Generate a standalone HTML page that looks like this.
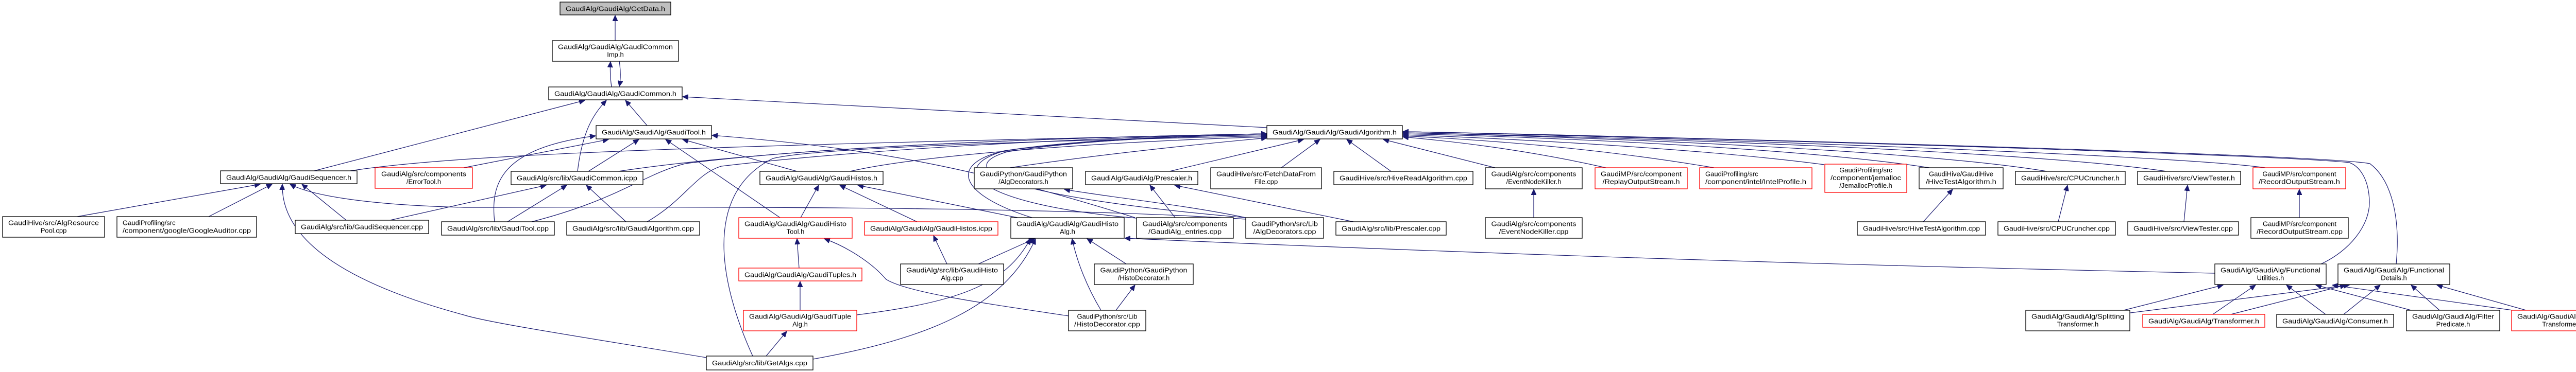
<!DOCTYPE html>
<html><head><meta charset="utf-8"><style>
html,body{margin:0;padding:0;background:#fff;}
svg{display:block;}
text{font-family:"Liberation Sans",sans-serif;font-size:13px;fill:#000;text-anchor:middle;}
text.l{text-anchor:start;}
path.e{fill:none;stroke:#191970;stroke-width:1.2;}
rect{fill:#fff;stroke:#000;stroke-width:1.3;}
rect.r{stroke:#ff0000;}
rect.g{fill:#bfbfbf;}
</style></head><body>
<svg width="5079" height="723" viewBox="0 0 5079 723" xmlns="http://www.w3.org/2000/svg">
<defs><marker id="a" markerWidth="12" markerHeight="10" refX="11" refY="5" orient="auto" markerUnits="userSpaceOnUse"><path d="M0,0 L11,5 L0,10 z" fill="#191970" stroke="#191970"/></marker></defs>
<g transform="translate(0,-2)">
<g marker-end="url(#a)">
<path class="e" d="M1194,81 L1194,32"/>
<path class="e" d="M1187,171 C1184,150 1184,135 1185,122"/>
<path class="e" d="M1202,121 C1205,140 1205,155 1202,170"/>
<path class="e" d="M1256,246 L1214,197"/>
<path class="e" d="M1121,335 C1130,260 1150,225 1177,197"/>
<path class="e" d="M610,334 L1135,197"/>
<path class="e" d="M2459,250 Q1900,218 1325,190"/>
<path class="e" d="M680,334 C900,300 1400,285 2459,262"/>
<path class="e" d="M900,328 L1181,273"/>
<path class="e" d="M960,433 C952,360 970,290 1156,266"/>
<path class="e" d="M1142,335 L1240,273"/>
<path class="e" d="M1514,425 L1292,273"/>
<path class="e" d="M1547,335 L1325,273"/>
<path class="e" d="M2203,425 C1900,330 1700,290 1382,265"/>
<path class="e" d="M757,430 L1060,362"/>
<path class="e" d="M985,433 L1100,362"/>
<path class="e" d="M1215,433 L1138,362"/>
<path class="e" d="M1554,425 L1589,362"/>
<path class="e" d="M1780,433 L1630,362"/>
<path class="e" d="M1975,425 L1665,362"/>
<path class="e" d="M1551,523 L1547,466"/>
<path class="e" d="M2074,616 C1900,590 1760,570 1720,545 C1690,510 1640,480 1600,466"/>
<path class="e" d="M1553,605 L1553,549"/>
<path class="e" d="M1487,694 L1527,646"/>
<path class="e" d="M1371,697 C1150,660 950,630 900,614 C700,560 545,480 548,360"/>
<path class="e" d="M1461,694 C1400,560 1360,380 1500,310 C1600,285 2200,272 2459,266"/>
<path class="e" d="M1663,614 C1850,590 1950,560 2000,466"/>
<path class="e" d="M1578,700 C1800,660 1950,600 2010,466"/>
<path class="e" d="M1838,515 L1812,460"/>
<path class="e" d="M1899,515 L2008,466"/>
<path class="e" d="M2186,515 L2110,466"/>
<path class="e" d="M2166,605 L2203,556"/>
<path class="e" d="M2137,605 C2110,560 2090,510 2081,466"/>
<path class="e" d="M4299,533 Q3200,510 2183,465"/>
<path class="e" d="M1200,335 C1500,290 2000,270 2459,262"/>
<path class="e" d="M1032,433 C1200,390 1250,340 1330,320 C1600,285 2100,268 2459,262"/>
<path class="e" d="M1256,433 C1330,390 1350,340 1400,325 C1700,290 2100,270 2459,262"/>
<path class="e" d="M1650,335 C1800,300 2200,275 2459,268"/>
<path class="e" d="M1960,328 C2150,300 2350,280 2459,270"/>
<path class="e" d="M2270,335 L2530,273"/>
<path class="e" d="M2487,328 L2562,273"/>
<path class="e" d="M2700,335 L2614,273"/>
<path class="e" d="M2902,328 L2685,273"/>
<path class="e" d="M3117,328 C2950,290 2800,275 2723,268"/>
<path class="e" d="M3327,328 C3100,290 2900,275 2723,266"/>
<path class="e" d="M3541,322 C3300,290 2900,270 2723,264"/>
<path class="e" d="M3745,328 C3500,290 3000,268 2723,262"/>
<path class="e" d="M3973,335 C3700,290 3000,266 2723,260"/>
<path class="e" d="M4205,335 C3900,290 3000,265 2723,260"/>
<path class="e" d="M4397,328 C4200,300 3000,262 2723,258"/>
<path class="e" d="M4505,515 C4560,490 4600,440 4599,394 C4598,350 4580,325 4560,318 C4400,300 3000,262 2723,258"/>
<path class="e" d="M4651,515 C4660,420 4640,350 4600,320 C4500,300 3000,262 2723,258"/>
<path class="e" d="M2206,426 C1900,400 1830,330 1950,295 C2100,272 2300,266 2459,264"/>
<path class="e" d="M2418,425 C1950,385 1845,330 1955,297 C2100,274 2300,266 2459,264"/>
<path class="e" d="M2003,425 C1860,380 1840,320 1950,295 C2100,275 2300,266 2459,264"/>
<path class="e" d="M2418,428 C2000,400 1200,405 900,405 C700,400 600,380 563,360"/>
<path class="e" d="M150,423 L505,360"/>
<path class="e" d="M405,423 L528,360"/>
<path class="e" d="M672,430 L586,360"/>
<path class="e" d="M2281,425 L2232,362"/>
<path class="e" d="M2627,433 L2280,362"/>
<path class="e" d="M2418,425 C2300,400 2150,385 2066,370"/>
<path class="e" d="M2977,425 L2977,370"/>
<path class="e" d="M3733,433 L3790,370"/>
<path class="e" d="M3995,433 L4013,362"/>
<path class="e" d="M4239,433 L4246,362"/>
<path class="e" d="M4463,425 L4463,370"/>
<path class="e" d="M4122,605 L4315,556"/>
<path class="e" d="M4135,610 L4560,556"/>
<path class="e" d="M4295,613 L4378,556"/>
<path class="e" d="M4330,613 L4553,556"/>
<path class="e" d="M4514,613 L4438,556"/>
<path class="e" d="M4549,613 L4620,556"/>
<path class="e" d="M4680,605 L4495,556"/>
<path class="e" d="M4735,605 L4680,556"/>
<path class="e" d="M4877,605 L4527,556"/>
<path class="e" d="M4903,605 L4730,556"/>
</g>

<rect class="g" x="1087" y="6" width="215" height="25"/><text x="1194.5" y="23.5" textLength="193" lengthAdjust="spacingAndGlyphs">GaudiAlg/GaudiAlg/GetData.h</text>
<rect x="1072" y="81" width="245" height="40"/><text x="1194.5" y="97.5" textLength="223" lengthAdjust="spacingAndGlyphs">GaudiAlg/GaudiAlg/GaudiCommon</text><text x="1194.5" y="112.5">Imp.h</text>
<rect x="1065" y="171" width="259" height="25"/><text x="1194.5" y="188.5" textLength="237" lengthAdjust="spacingAndGlyphs">GaudiAlg/GaudiAlg/GaudiCommon.h</text>
<rect x="1157" y="246" width="224" height="26"/><text x="1269" y="263.5" textLength="202" lengthAdjust="spacingAndGlyphs">GaudiAlg/GaudiAlg/GaudiTool.h</text>
<rect x="2459" y="246" width="263" height="26"/><text x="2590.5" y="263.5" textLength="241" lengthAdjust="spacingAndGlyphs">GaudiAlg/GaudiAlg/GaudiAlgorithm.h</text>
<rect x="428" y="334" width="265" height="25"/><text x="560.5" y="351.5" textLength="243" lengthAdjust="spacingAndGlyphs">GaudiAlg/GaudiAlg/GaudiSequencer.h</text>
<rect class="r" x="728" y="328" width="189" height="40"/><text x="822.5" y="344.5" textLength="165" lengthAdjust="spacingAndGlyphs">GaudiAlg/src/components</text><text x="822.5" y="359.5">/ErrorTool.h</text>
<rect x="992" y="335" width="256" height="26"/><text x="1120" y="352.5" textLength="234" lengthAdjust="spacingAndGlyphs">GaudiAlg/src/lib/GaudiCommon.icpp</text>
<rect x="1475" y="335" width="239" height="26"/><text x="1594.5" y="352.5" textLength="217" lengthAdjust="spacingAndGlyphs">GaudiAlg/GaudiAlg/GaudiHistos.h</text>
<rect x="1891" y="328" width="191" height="41"/><text x="1986.5" y="344.5" textLength="169" lengthAdjust="spacingAndGlyphs">GaudiPython/GaudiPython</text><text x="1986.5" y="359.5">/AlgDecorators.h</text>
<rect x="2107" y="335" width="218" height="26"/><text x="2216" y="352.5" textLength="196" lengthAdjust="spacingAndGlyphs">GaudiAlg/GaudiAlg/Prescaler.h</text>
<rect x="2350" y="328" width="215" height="41"/><text x="2457.5" y="344.5" textLength="193" lengthAdjust="spacingAndGlyphs">GaudiHive/src/FetchDataFrom</text><text x="2457.5" y="359.5">File.cpp</text>
<rect x="2589" y="335" width="270" height="26"/><text x="2724" y="352.5" textLength="248" lengthAdjust="spacingAndGlyphs">GaudiHive/src/HiveReadAlgorithm.cpp</text>
<rect x="2883" y="328" width="188" height="41"/><text x="2977" y="344.5" textLength="165" lengthAdjust="spacingAndGlyphs">GaudiAlg/src/components</text><text x="2977" y="359.5">/EventNodeKiller.h</text>
<rect class="r" x="3096" y="328" width="179" height="41"/><text x="3185.5" y="344.5" textLength="157" lengthAdjust="spacingAndGlyphs">GaudiMP/src/component</text><text x="3185.5" y="359.5" textLength="150" lengthAdjust="spacingAndGlyphs">/ReplayOutputStream.h</text>
<rect class="r" x="3299" y="328" width="218" height="41"/><text class="l" x="3310" y="344.5">GaudiProfiling/src</text><text class="l" x="3310" y="359.5" textLength="196" lengthAdjust="spacingAndGlyphs">/component/intel/IntelProfile.h</text>
<rect class="r" x="3542" y="321" width="159" height="55"/><text x="3621.5" y="337">GaudiProfiling/src</text><text x="3621.5" y="352" textLength="137" lengthAdjust="spacingAndGlyphs">/component/jemalloc</text><text x="3621.5" y="367">/JemallocProfile.h</text>
<rect x="3725" y="328" width="163" height="41"/><text x="3806.5" y="344.5">GaudiHive/GaudiHive</text><text x="3806.5" y="359.5" textLength="137" lengthAdjust="spacingAndGlyphs">/HiveTestAlgorithm.h</text>
<rect x="3912" y="335" width="213" height="26"/><text x="4018.5" y="352.5" textLength="191" lengthAdjust="spacingAndGlyphs">GaudiHive/src/CPUCruncher.h</text>
<rect x="4149" y="335" width="200" height="26"/><text x="4249" y="352.5" textLength="178" lengthAdjust="spacingAndGlyphs">GaudiHive/src/ViewTester.h</text>
<rect class="r" x="4373" y="328" width="180" height="41"/><text x="4463" y="344.5">GaudiMP/src/component</text><text x="4463" y="359.5" textLength="158" lengthAdjust="spacingAndGlyphs">/RecordOutputStream.h</text>
<rect x="5" y="423" width="198" height="40"/><text x="104" y="439.5" textLength="176" lengthAdjust="spacingAndGlyphs">GaudiHive/src/AlgResource</text><text x="104" y="454.5">Pool.cpp</text>
<rect x="227" y="423" width="271" height="40"/><text class="l" x="238" y="439.5">GaudiProfiling/src</text><text class="l" x="238" y="454.5" textLength="249" lengthAdjust="spacingAndGlyphs">/component/google/GoogleAuditor.cpp</text>
<rect x="573" y="430" width="259" height="26"/><text x="702.5" y="447.5" textLength="237" lengthAdjust="spacingAndGlyphs">GaudiAlg/src/lib/GaudiSequencer.cpp</text>
<rect x="857" y="433" width="219" height="26"/><text x="966.5" y="450.5" textLength="197" lengthAdjust="spacingAndGlyphs">GaudiAlg/src/lib/GaudiTool.cpp</text>
<rect x="1100" y="433" width="258" height="26"/><text x="1229" y="450.5" textLength="236" lengthAdjust="spacingAndGlyphs">GaudiAlg/src/lib/GaudiAlgorithm.cpp</text>
<rect class="r" x="1434" y="425" width="220" height="40"/><text x="1544" y="441.5" textLength="198" lengthAdjust="spacingAndGlyphs">GaudiAlg/GaudiAlg/GaudiHisto</text><text x="1544" y="456.5">Tool.h</text>
<rect class="r" x="1678" y="433" width="259" height="26"/><text x="1807.5" y="450.5" textLength="237" lengthAdjust="spacingAndGlyphs">GaudiAlg/GaudiAlg/GaudiHistos.icpp</text>
<rect x="1962" y="425" width="220" height="40"/><text x="2072" y="441.5" textLength="198" lengthAdjust="spacingAndGlyphs">GaudiAlg/GaudiAlg/GaudiHisto</text><text x="2072" y="456.5">Alg.h</text>
<rect x="2206" y="425" width="188" height="40"/><text x="2300" y="441.5" textLength="165" lengthAdjust="spacingAndGlyphs">GaudiAlg/src/components</text><text x="2300" y="456.5" textLength="142" lengthAdjust="spacingAndGlyphs">/GaudiAlg_entries.cpp</text>
<rect x="2418" y="425" width="151" height="40"/><text x="2493.5" y="441.5" textLength="129" lengthAdjust="spacingAndGlyphs">GaudiPython/src/Lib</text><text x="2493.5" y="456.5" textLength="122" lengthAdjust="spacingAndGlyphs">/AlgDecorators.cpp</text>
<rect x="2593" y="433" width="214" height="26"/><text x="2700" y="450.5" textLength="192" lengthAdjust="spacingAndGlyphs">GaudiAlg/src/lib/Prescaler.cpp</text>
<rect x="2883" y="425" width="188" height="40"/><text x="2977" y="441.5" textLength="165" lengthAdjust="spacingAndGlyphs">GaudiAlg/src/components</text><text x="2977" y="456.5" textLength="135" lengthAdjust="spacingAndGlyphs">/EventNodeKiller.cpp</text>
<rect x="3605" y="433" width="249" height="26"/><text x="3729.5" y="450.5" textLength="227" lengthAdjust="spacingAndGlyphs">GaudiHive/src/HiveTestAlgorithm.cpp</text>
<rect x="3878" y="433" width="228" height="26"/><text x="3992" y="450.5" textLength="206" lengthAdjust="spacingAndGlyphs">GaudiHive/src/CPUCruncher.cpp</text>
<rect x="4130" y="433" width="215" height="26"/><text x="4237.5" y="450.5" textLength="193" lengthAdjust="spacingAndGlyphs">GaudiHive/src/ViewTester.cpp</text>
<rect x="4369" y="425" width="189" height="40"/><text x="4463.5" y="441.5">GaudiMP/src/component</text><text x="4463.5" y="456.5" textLength="167" lengthAdjust="spacingAndGlyphs">/RecordOutputStream.cpp</text>
<rect class="r" x="1434" y="523" width="239" height="25"/><text x="1553.5" y="540.5" textLength="217" lengthAdjust="spacingAndGlyphs">GaudiAlg/GaudiAlg/GaudiTuples.h</text>
<rect x="1748" y="515" width="200" height="40"/><text x="1848" y="531.5" textLength="178" lengthAdjust="spacingAndGlyphs">GaudiAlg/src/lib/GaudiHisto</text><text x="1848" y="546.5">Alg.cpp</text>
<rect x="2124" y="515" width="192" height="40"/><text x="2220" y="531.5" textLength="169" lengthAdjust="spacingAndGlyphs">GaudiPython/GaudiPython</text><text x="2220" y="546.5">/HistoDecorator.h</text>
<rect x="4299" y="515" width="216" height="40"/><text x="4407" y="531.5" textLength="194" lengthAdjust="spacingAndGlyphs">GaudiAlg/GaudiAlg/Functional</text><text x="4407" y="546.5">Utilities.h</text>
<rect x="4538" y="515" width="217" height="40"/><text x="4646.5" y="531.5" textLength="195" lengthAdjust="spacingAndGlyphs">GaudiAlg/GaudiAlg/Functional</text><text x="4646.5" y="546.5">Details.h</text>
<rect class="r" x="1443" y="605" width="220" height="40"/><text x="1553" y="621.5" textLength="198" lengthAdjust="spacingAndGlyphs">GaudiAlg/GaudiAlg/GaudiTuple</text><text x="1553" y="636.5">Alg.h</text>
<rect x="2074" y="605" width="150" height="40"/><text x="2149" y="621.5">GaudiPython/src/Lib</text><text x="2149" y="636.5" textLength="128" lengthAdjust="spacingAndGlyphs">/HistoDecorator.cpp</text>
<rect x="3932" y="605" width="202" height="40"/><text x="4033" y="621.5" textLength="180" lengthAdjust="spacingAndGlyphs">GaudiAlg/GaudiAlg/Splitting</text><text x="4033" y="636.5">Transformer.h</text>
<rect class="r" x="4159" y="613" width="237" height="25"/><text x="4277.5" y="630.5" textLength="215" lengthAdjust="spacingAndGlyphs">GaudiAlg/GaudiAlg/Transformer.h</text>
<rect x="4419" y="613" width="227" height="25"/><text x="4532.5" y="630.5" textLength="205" lengthAdjust="spacingAndGlyphs">GaudiAlg/GaudiAlg/Consumer.h</text>
<rect x="4671" y="605" width="181" height="40"/><text x="4761.5" y="621.5" textLength="159" lengthAdjust="spacingAndGlyphs">GaudiAlg/GaudiAlg/Filter</text><text x="4761.5" y="636.5">Predicate.h</text>
<rect class="r" x="4875" y="605" width="199" height="40"/><text x="4974.5" y="621.5" textLength="177" lengthAdjust="spacingAndGlyphs">GaudiAlg/GaudiAlg/Merging</text><text x="4974.5" y="636.5">Transformer.h</text>
<rect x="1371" y="694" width="207" height="27"/><text x="1474.5" y="712" textLength="185" lengthAdjust="spacingAndGlyphs">GaudiAlg/src/lib/GetAlgs.cpp</text>
</g>
</svg>
</body></html>
